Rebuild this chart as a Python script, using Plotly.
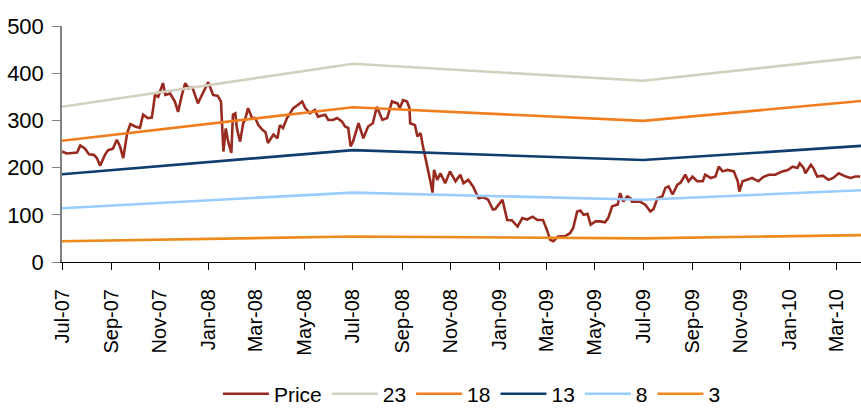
import plotly.graph_objects as go

# ---- Price series ----
price_dates = [
    "2007-07-01", "2007-07-07", "2007-07-14", "2007-07-20", "2007-07-24", "2007-07-30",
    "2007-08-04", "2007-08-10", "2007-08-14", "2007-08-18", "2007-08-24", "2007-08-28",
    "2007-09-03", "2007-09-08", "2007-09-12", "2007-09-16", "2007-09-21", "2007-09-25",
    "2007-10-01", "2007-10-07", "2007-10-11", "2007-10-17", "2007-10-22", "2007-10-26",
    "2007-10-30", "2007-11-05", "2007-11-08", "2007-11-14", "2007-11-20", "2007-11-24",
    "2007-11-29", "2007-12-03", "2007-12-07", "2007-12-12", "2007-12-15", "2007-12-19",
    "2007-12-22", "2008-01-01", "2008-01-07", "2008-01-13", "2008-01-17", "2008-01-20",
    "2008-01-23", "2008-01-26", "2008-01-30", "2008-02-01", "2008-02-04", "2008-02-06",
    "2008-02-10", "2008-02-14", "2008-02-16", "2008-02-20", "2008-02-25", "2008-02-29",
    "2008-03-04", "2008-03-09", "2008-03-13", "2008-03-16", "2008-03-23", "2008-03-28",
    "2008-03-31", "2008-04-04", "2008-04-09", "2008-04-17", "2008-04-23", "2008-04-28",
    "2008-05-02", "2008-05-08", "2008-05-14", "2008-05-18", "2008-05-27", "2008-05-31",
    "2008-06-06", "2008-06-11", "2008-06-17", "2008-06-21", "2008-06-25", "2008-06-28",
    "2008-07-01", "2008-07-08", "2008-07-14", "2008-07-20", "2008-07-26", "2008-07-31",
    "2008-08-07", "2008-08-13", "2008-08-19", "2008-08-26", "2008-08-29", "2008-09-02",
    "2008-09-07", "2008-09-10", "2008-09-11", "2008-09-17", "2008-09-20", "2008-09-24",
    "2008-09-27", "2008-10-02", "2008-10-06", "2008-10-09", "2008-10-11", "2008-10-15",
    "2008-10-19", "2008-10-25", "2008-10-31", "2008-11-07", "2008-11-13", "2008-11-17",
    "2008-11-23", "2008-11-29", "2008-12-06", "2008-12-12", "2008-12-18", "2008-12-24",
    "2008-12-27", "2008-12-31", "2009-01-05", "2009-01-11", "2009-01-17", "2009-01-24",
    "2009-01-30", "2009-02-05", "2009-02-12", "2009-02-18", "2009-02-25", "2009-03-02",
    "2009-03-06", "2009-03-10", "2009-03-16", "2009-03-25", "2009-03-31", "2009-04-04",
    "2009-04-09", "2009-04-13", "2009-04-17", "2009-04-22", "2009-04-26", "2009-05-02",
    "2009-05-08", "2009-05-14", "2009-05-18", "2009-05-23", "2009-05-30", "2009-06-02",
    "2009-06-06", "2009-06-11", "2009-06-15", "2009-06-17", "2009-06-27", "2009-07-04",
    "2009-07-10", "2009-07-14", "2009-07-19", "2009-07-25", "2009-07-29", "2009-08-02",
    "2009-08-07", "2009-08-13", "2009-08-17", "2009-08-23", "2009-08-27", "2009-09-01",
    "2009-09-07", "2009-09-14", "2009-09-17", "2009-09-24", "2009-09-30", "2009-10-04",
    "2009-10-09", "2009-10-15", "2009-10-23", "2009-10-28", "2009-10-30", "2009-11-03",
    "2009-11-09", "2009-11-15", "2009-11-23", "2009-11-29", "2009-12-06", "2009-12-14",
    "2009-12-23", "2009-12-30", "2010-01-05", "2010-01-11", "2010-01-14", "2010-01-19",
    "2010-01-21", "2010-01-28", "2010-01-31", "2010-02-05", "2010-02-12", "2010-02-19",
    "2010-02-25", "2010-03-04", "2010-03-13", "2010-03-19", "2010-03-25", "2010-03-31",
]
price_values = [
    234, 230, 231, 232, 247, 240,
    228, 227, 220, 204, 227, 237,
    240, 259, 245, 220, 273, 292,
    287, 284, 312, 305, 306, 354,
    350, 379, 354, 357, 340, 318,
    355, 379, 368, 370, 355, 336,
    347, 381, 354, 352, 340, 234,
    283, 255, 231, 312, 315, 283,
    255, 295, 300, 326, 305, 305,
    290, 280, 275, 252, 270, 262,
    290, 284, 305, 326, 333, 340,
    326, 315, 322, 308, 312, 301,
    301, 305, 298, 287, 284, 245,
    255, 294, 262, 287, 294, 329,
    301, 305, 340, 336, 326, 343,
    340, 326, 294, 290, 266, 273,
    245, 209, 174, 147, 195, 174,
    188, 167, 192, 171, 185, 167,
    174, 160, 135, 137, 132, 111,
    112, 121, 132, 89, 88, 75,
    93, 90, 96, 89, 89, 68,
    47, 44, 54, 55, 61, 72,
    107, 109, 100, 102, 79, 86,
    86, 84, 93, 118, 122, 146,
    128, 139, 135, 128, 128, 121,
    107, 112, 135, 139, 157, 160,
    143, 164, 168, 185, 171, 181,
    171, 171, 185, 178, 181, 202,
    192, 195, 192, 171, 149, 171,
    174, 178, 171, 180, 185, 185,
    192, 195, 202, 199, 209, 199,
    188, 206, 199, 181, 183, 174,
    178, 188, 181, 178, 181, 181,
]

# ---- Band lines (vertices at Jul-07, Jul-08, Jul-09, Apr-10) ----
band_dates = ["2007-07-01", "2008-07-01", "2009-07-01", "2010-04-01"]
band_23 = [329, 420, 384, 434]
band_18 = [257, 328, 299, 341]
band_13 = [186, 237, 216, 246]
band_8 = [114, 147, 132, 152]
band_3 = [44, 54, 50, 57]

series = [
    ("Price", price_dates, price_values, "#992A20"),
    ("23", band_dates, band_23, "#D3D0C0"),
    ("18", band_dates, band_18, "#F07E1E"),
    ("13", band_dates, band_13, "#0F3D6E"),
    ("8", band_dates, band_8, "#99CCFF"),
    ("3", band_dates, band_3, "#EC8A1C"),
]

fig = go.Figure()
for name, xs, ys, color in series:
    fig.add_trace(go.Scatter(
        x=xs, y=ys, name=name, mode="lines",
        line=dict(color=color, width=2.6),
    ))

font_family = "Liberation Sans, Arial, sans-serif"

fig.update_layout(
    width=861, height=408,
    margin=dict(l=62, r=0, t=26, b=146),
    paper_bgcolor="white", plot_bgcolor="white",
    font=dict(family=font_family, color="black"),
    showlegend=True,
    legend=dict(
        orientation="h",
        xref="paper", x=0.513, xanchor="center",
        yref="container", y=0.034, yanchor="middle",
        font=dict(size=21, family=font_family), itemwidth=46,
        tracegroupgap=0,
    ),
    xaxis=dict(
        type="date", automargin=False,
        range=["2007-07-01", "2010-04-01"],
        tick0="2007-07-01", dtick="M2", tickformat="%b-%y",
        tickangle=-90, tickfont=dict(size=20),
        showgrid=False, zeroline=False,
        showline=True, linecolor="black", linewidth=1,
        ticks="outside", ticklen=7, tickcolor="black",
        ticklabelstandoff=11,
    ),
    yaxis=dict(
        automargin=False,
        range=[0, 500], tickvals=[0, 100, 200, 300, 400, 500],
        tickfont=dict(size=22),
        showgrid=False, zeroline=False,
        showline=True, linecolor="#808080", linewidth=1.5,
        ticks="outside", ticklen=8, tickcolor="#808080",
        ticklabelstandoff=4,
    ),
)

# remove the page's default 8px body margin so the figure fills the window exactly
fig.write_html(
    "out.html",
    config={"displayModeBar": False},
    post_script="document.body.style.margin='0';document.body.style.overflow='hidden';",
)
